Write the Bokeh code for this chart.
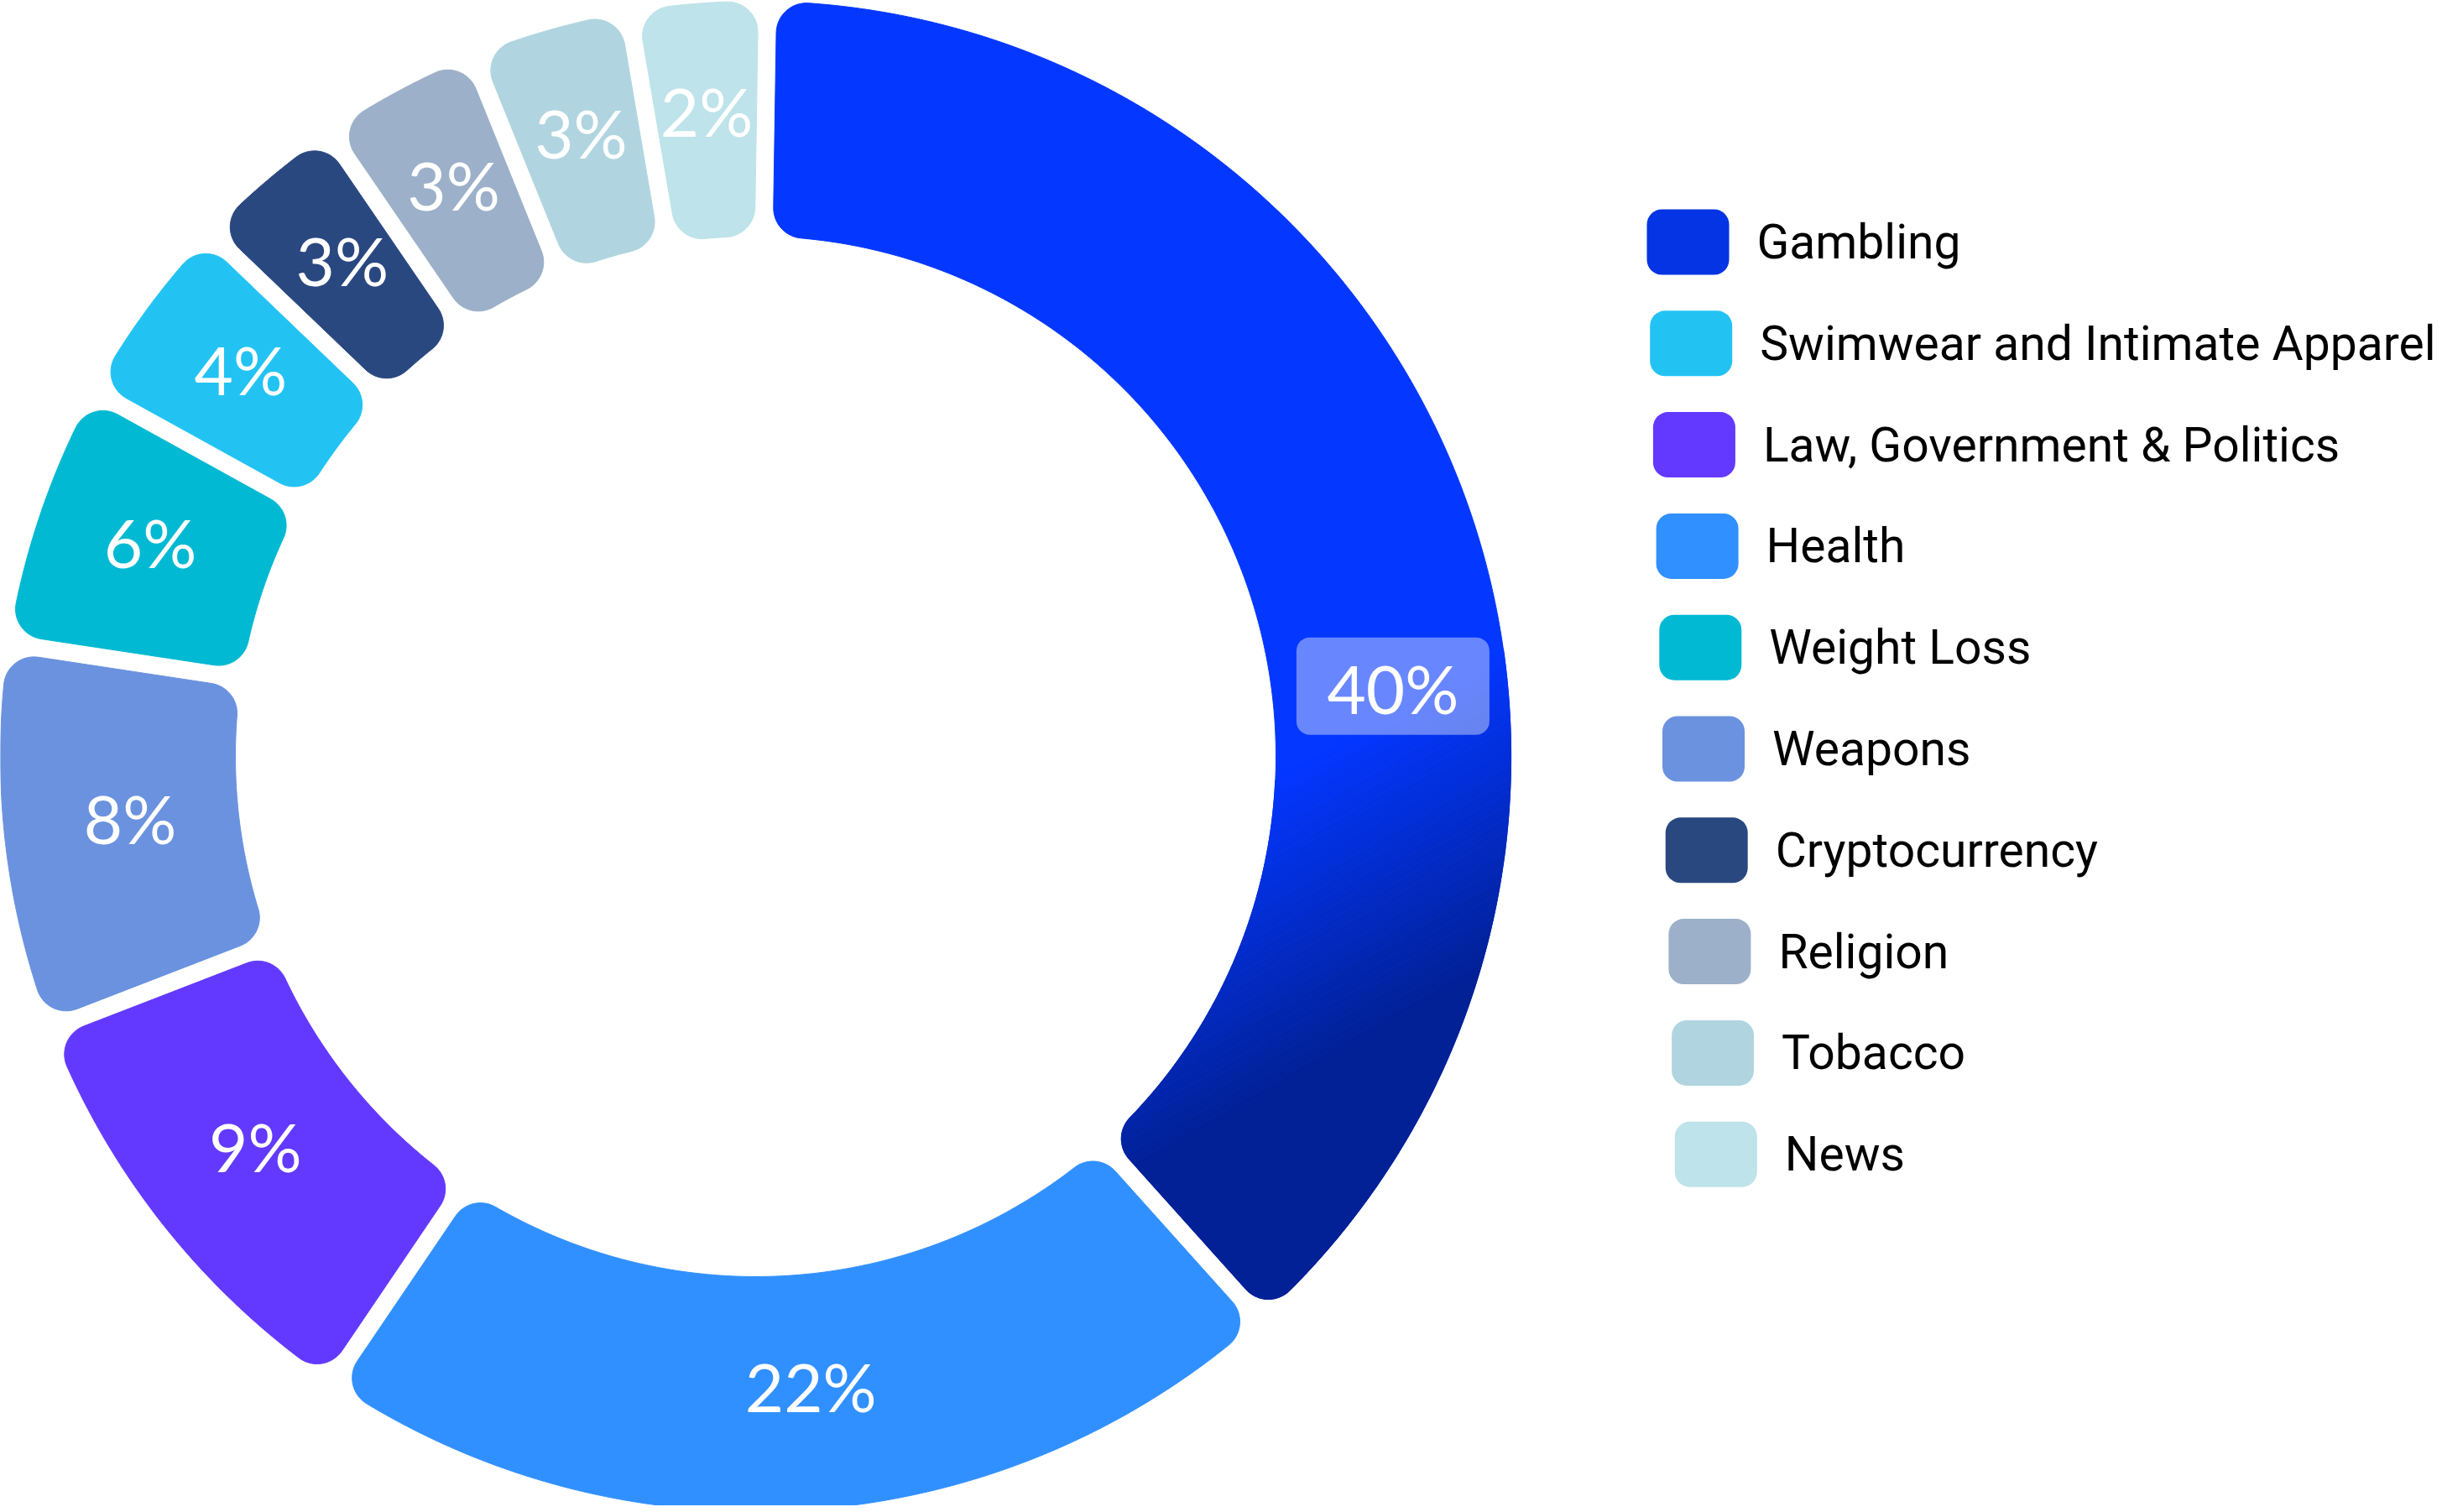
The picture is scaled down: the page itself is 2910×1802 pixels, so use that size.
import numpy as np
from bokeh.plotting import figure
from bokeh.models import Range1d, ColumnDataSource
from bokeh.core.properties import value
from bokeh.embed import file_html
from bokeh.resources import INLINE

# ---------------- data ----------------
categories = ["Gambling", "Health", "Law, Government & Politics", "Weapons", "Weight Loss",
              "Swimwear and Intimate Apparel", "Cryptocurrency", "Religion", "Tobacco", "News"]
shares = [38.1, 21.1, 9.65, 8.26, 5.64, 4.13, 3.29, 3.43, 3.42, 2.94]   # drawn share of the ring
labels = ["40%", "22%", "9%", "8%", "6%", "4%", "3%", "3%", "3%", "2%"]
colors = ["#0437FF", "#3190FF", "#6339FF", "#6A92DF", "#02B9D3",
          "#22C3F3", "#2A4880", "#9CB0C9", "#B0D5E0", "#BEE3EA"]

legend_names = ["Gambling", "Swimwear and Intimate Apparel", "Law, Government & Politics",
                "Health", "Weight Loss", "Weapons", "Cryptocurrency", "Religion", "Tobacco", "News"]
legend_colors = ["#0434E4", "#22C3F3", "#6339FF", "#3190FF", "#02B9D3",
                 "#6A92DF", "#2A4880", "#9CB0C9", "#B0D5E0", "#BEE3EA"]

gambling_dark = "#022196"

# ---------------- geometry helpers ----------------
CX, CY = 900.0, 901.0
RO, RI = 900.0, 620.0
HALF_GAP = 11.0
CORNER = 36.0
START_DEG = 0.9


def u(t):
    return np.array([np.sin(t), -np.cos(t)])


def nv(t):
    return np.array([np.cos(t), np.sin(t)])


def fillet(C, P1, P2, n=18):
    a1 = np.arctan2(*(P1 - C)[::-1])
    a2 = np.arctan2(*(P2 - C)[::-1])
    d = (a2 - a1 + np.pi) % (2 * np.pi) - np.pi
    a = a1 + d * np.linspace(0, 1, n)
    r = np.linalg.norm(P1 - C)
    return np.column_stack([C[0] + r * np.cos(a), C[1] + r * np.sin(a)])


def arc(r, t0, t1, n):
    t = np.linspace(t0, t1, n)
    return np.column_stack([r * np.sin(t), -r * np.cos(t)])


def slice_outline(a0, a1, ro=RO, ri=RI, h=HALF_GAP, c=CORNER):
    rho_o = np.sqrt((ro - c) ** 2 - (h + c) ** 2)
    rho_i = np.sqrt((ri + c) ** 2 - (h + c) ** 2)
    Cos = rho_o * u(a0) + (h + c) * nv(a0)
    Cis = rho_i * u(a0) + (h + c) * nv(a0)
    Coe = rho_o * u(a1) - (h + c) * nv(a1)
    Cie = rho_i * u(a1) - (h + c) * nv(a1)
    Los = rho_o * u(a0) + h * nv(a0)
    Lis = rho_i * u(a0) + h * nv(a0)
    Loe = rho_o * u(a1) - h * nv(a1)
    Lie = rho_i * u(a1) - h * nv(a1)
    Os = Cos * ro / np.linalg.norm(Cos)
    Oe = Coe * ro / np.linalg.norm(Coe)
    Is = Cis * ri / np.linalg.norm(Cis)
    Ie = Cie * ri / np.linalg.norm(Cie)
    t_os = a0 + np.arcsin((h + c) / (ro - c))
    t_oe = a1 - np.arcsin((h + c) / (ro - c))
    t_is = a0 + np.arcsin((h + c) / (ri + c))
    t_ie = a1 - np.arcsin((h + c) / (ri + c))
    n_o = max(8, int((t_oe - t_os) * 180))
    n_i = max(8, int((t_ie - t_is) * 140))
    parts = [
        fillet(Cos, Los, Os),
        arc(ro, t_os, t_oe, n_o),
        fillet(Coe, Oe, Loe),
        fillet(Cie, Lie, Ie),
        arc(ri, t_ie, t_is, n_i),
        fillet(Cis, Is, Lis),
    ]
    pts = np.vstack(parts)
    pts[:, 0] += CX
    pts[:, 1] += CY
    return pts


def clip_half(poly, d, s, keep_ge=True):
    out = []
    n = len(poly)
    if n == 0:
        return poly
    for k in range(n):
        P = poly[k]
        Q = poly[(k + 1) % n]
        fp = P @ d - s
        fq = Q @ d - s
        if not keep_ge:
            fp, fq = -fp, -fq
        if fp >= 0:
            out.append(P)
        if (fp >= 0) != (fq >= 0):
            t = fp / (fp - fq)
            out.append(P + t * (Q - P))
    return np.array(out)


def hex2rgb(h):
    h = h.lstrip("#")
    return np.array([int(h[i:i + 2], 16) for i in (0, 2, 4)], dtype=float)


def rgb2hex(c):
    c = np.clip(np.round(c), 0, 255).astype(int)
    return "#%02x%02x%02x" % tuple(c)


# ---------------- slices ----------------
total = float(sum(shares))
bounds = np.radians(START_DEG + np.concatenate([[0.0], np.cumsum(shares)]) / total * 360.0)

xs, ys, fills = [], [], []
outlines = []
for i in range(len(categories)):
    poly = slice_outline(bounds[i], bounds[i + 1])
    outlines.append(poly)
    xs.append(poly[:, 0].tolist())
    ys.append(poly[:, 1].tolist())
    fills.append(colors[i])

W, H = 2902, 1794
p = figure(width=W, height=H, x_range=Range1d(0, W), y_range=Range1d(H, 0),
           output_backend="svg", toolbar_location=None, min_border=0,
           x_axis_location=None, y_axis_location=None)
p.grid.visible = False
p.outline_line_color = None
p.background_fill_color = "white"
p.border_fill_color = "white"

p.patches(xs="xs", ys="ys", fill_color="fill", line_color="fill", line_width=1,
          source=ColumnDataSource(dict(xs=xs, ys=ys, fill=fills)))

# gradient on the Gambling slice (linear, bright upper part to dark lower right)
gdir = np.array([0.5, 0.866])
gdir = gdir / np.linalg.norm(gdir)
s0, s1 = 1565.0, 1885.0
nb = 48
bright = hex2rgb(colors[0])
dark = hex2rgb(gambling_dark)
gx, gy, gc = [], [], []
edges = np.linspace(s0, s1, nb + 1)
for k in range(nb + 1):
    piece = clip_half(outlines[0], gdir, edges[k] if k < nb else s1, True)
    if k < nb:
        piece = clip_half(piece, gdir, edges[k + 1], False)
        t = (k + 0.5) / nb
    else:
        t = 1.0
    if len(piece) < 3:
        continue
    gx.append(piece[:, 0].tolist())
    gy.append(piece[:, 1].tolist())
    gc.append(rgb2hex(bright + (dark - bright) * t))
p.patches(xs="xs", ys="ys", fill_color="c", line_color="c", line_width=1.2,
          source=ColumnDataSource(dict(xs=gx, ys=gy, c=gc)))

# ---------------- value labels ----------------
mids = (bounds[:-1] + bounds[1:]) / 2
lab_r = 762.0
lab_theta = mids.copy()
lab_theta[0] = np.radians(83.7)
lx = CX + lab_r * np.sin(lab_theta)
ly = CY - lab_r * np.cos(lab_theta) - 12
lx[0] = CX + 764 * np.sin(lab_theta[0])
ly[0] = CY - 764 * np.cos(lab_theta[0])
lx[1] += 14
lx[3] += 12

# translucent box behind the largest label
p.quad(left=[lx[0] - 115], right=[lx[0] + 115], top=[ly[0] - 58], bottom=[ly[0] + 58],
       fill_color="white", fill_alpha=0.4, line_color=None, border_radius=16)

p.text(x=lx.tolist(), y=(ly + 2).tolist(), text=labels, text_color="white",
       text_font=value("Lato"), text_font_size="80px",
       text_align="center", text_baseline="middle")

# ---------------- legend ----------------
n = len(legend_names)
row_y = 288 + np.arange(n) * 120.8
sw_left = 1962 + np.arange(n) * 3.7
p.quad(left=sw_left.tolist(), right=(sw_left + 98).tolist(),
       top=(row_y - 39).tolist(), bottom=(row_y + 39).tolist(),
       fill_color=legend_colors, line_color=None, border_radius=18)
p.text(x=(sw_left + 131).tolist(), y=row_y.tolist(), text=legend_names,
       text_color="#000000", text_font=value("Roboto"), text_font_size="57px",
       text_align="left", text_baseline="middle")

open("out.html", "w").write(file_html(p, INLINE))
